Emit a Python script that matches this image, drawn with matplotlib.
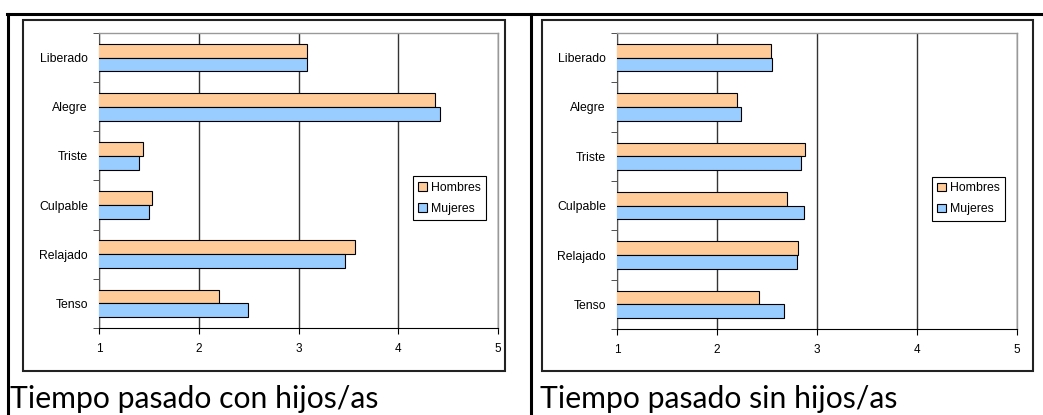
import numpy as np
import matplotlib
matplotlib.use("Agg")
import matplotlib.pyplot as plt
from matplotlib.patches import Rectangle
from matplotlib.lines import Line2D

W, H = 1043, 415

categorias = ["Tenso", "Relajado", "Culpable", "Triste", "Alegre", "Liberado"]
series = ["Hombres", "Mujeres"]

# tiempo pasado con hijos/as
con_hombres = [2.20, 3.57, 1.53, 1.44, 4.37, 3.09]
con_mujeres = [2.49, 3.47, 1.50, 1.40, 4.42, 3.09]
# tiempo pasado sin hijos/as
sin_hombres = [2.42, 2.81, 2.70, 2.88, 2.20, 2.54]
sin_mujeres = [2.67, 2.80, 2.87, 2.84, 2.24, 2.55]

titulos = ["Tiempo pasado con hijos/as", "Tiempo pasado sin hijos/as"]
xticks = [1, 2, 3, 4, 5]

naranja = "#FFCC99"
azul = "#99CCFF"

plt.rcParams["font.family"] = ["Liberation Sans", "DejaVu Sans"]

fig = plt.figure(figsize=(W / 100, H / 100), dpi=100)


def rect_px(x0, y0, x1, y1):
    # pixeles (arriba-izquierda) -> fraccion de figura
    return [x0 / W, 1 - y1 / H, (x1 - x0) / W, (y1 - y0) / H]


# bordes de la tabla
fig.add_artist(Line2D([7 / W, 1], [1 - 14 / H] * 2, color="black", lw=2.2, transform=fig.transFigure))
fig.add_artist(Line2D([7.5 / W] * 2, [0, 1 - 14 / H], color="black", lw=2.2, transform=fig.transFigure))
fig.add_artist(Line2D([531 / W] * 2, [0, 1 - 14 / H], color="black", lw=2.2, transform=fig.transFigure))

paneles = [
    (con_hombres, con_mujeres, (23, 20, 505, 371), (99, 33, 498, 328), 10),
    (sin_hombres, sin_mujeres, (542, 20, 1033, 371), (617, 33, 1017, 329), 540),
]

y = np.arange(len(categorias))
alto = 0.28

for i, (hom, muj, marco, area, xt) in enumerate(paneles):
    x0, y0, x1, y1 = marco
    fig.add_artist(Rectangle((x0 / W, 1 - y1 / H), (x1 - x0) / W, (y1 - y0) / H,
                             fill=False, ec="#222222", lw=1.5, transform=fig.transFigure))

    ax = fig.add_axes(rect_px(*area))
    ax.barh(y + alto / 2, hom, height=alto, left=0, color=naranja, edgecolor="black", lw=0.8,
            label=series[0], zorder=3)
    ax.barh(y - alto / 2, muj, height=alto, left=0, color=azul, edgecolor="black", lw=0.8,
            label=series[1], zorder=3)
    ax.set_xlim(1, 5)
    ax.set_ylim(-0.5, len(categorias) - 0.5)
    ax.set_xticks(xticks)
    ax.set_xticklabels([str(t) for t in xticks], fontsize=8.5)
    ax.set_yticks(y)
    ax.set_yticklabels(categorias, fontsize=8.8)
    ax.set_yticks(np.arange(-0.5, len(categorias), 1), minor=True)
    ax.tick_params(axis="y", which="major", length=0, pad=8)
    ax.tick_params(axis="y", which="minor", length=4, direction="out", color="#333333")
    ax.tick_params(axis="x", length=4, direction="out", pad=7, color="black")
    ax.grid(axis="x", color="#333333", lw=1, zorder=0)
    for s in ["top", "right"]:
        ax.spines[s].set_color("#999999")
        ax.spines[s].set_linewidth(1)
    ax.spines["left"].set_color("#555555")
    ax.spines["bottom"].set_color("black")

    h, l = ax.get_legend_handles_labels()
    ax.legend(h, l, loc="center right", bbox_to_anchor=(0.97, 0.44), fontsize=8.8,
              frameon=True, fancybox=False, edgecolor="black", framealpha=1,
              handlelength=0.7, handleheight=0.7, handletextpad=0.3,
              borderpad=0.45, labelspacing=0.75, borderaxespad=0)
    ax.get_legend().get_frame().set_linewidth(0.8)

    fig.text(xt / W, 1 - 399 / H, titulos[i], fontsize=21.7, family=["Lato", "DejaVu Sans"],
             ha="left", va="center")

fig.savefig("out.png", dpi=100)
